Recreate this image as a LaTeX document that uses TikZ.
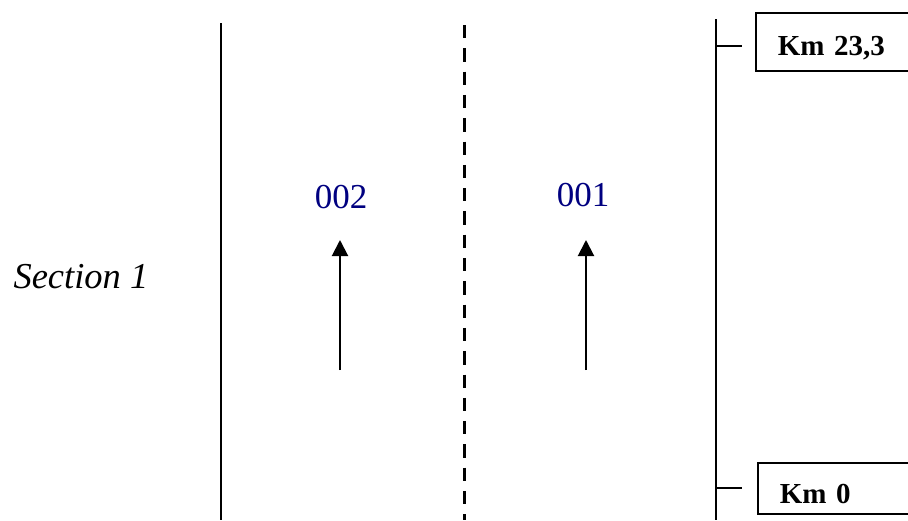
\documentclass[tikz,border=0pt]{standalone}
\usepackage{fontspec}
\setmainfont{Liberation Serif}
\usetikzlibrary{arrows.meta}
\definecolor{lanenum}{HTML}{000080}
\begin{document}
\begin{tikzpicture}[x=1pt,y=-1pt,
  roadline/.style={line width=2pt},
  laneline/.style={line width=3pt, dash pattern=on 13.3pt off 10pt},
  flow/.style={line width=2pt, -{Triangle[length=16pt,width=16pt]}},
  kmbox/.style={draw, line width=1.6pt, inner xsep=22pt, inner ysep=0pt,
    text width=120pt, align=left, anchor=base west,
    font=\fontsize{29}{32}\selectfont\bfseries},
  lanelabel/.style={anchor=base, text=lanenum, font=\fontsize{35}{40}\selectfont},
  seclabel/.style={anchor=base west, font=\fontsize{36.5}{42}\selectfont\itshape}
]
\useasboundingbox (0,0) rectangle (908,520);
\clip (0,0) rectangle (908,520);

% road edges and centre line
\coordinate (leftTop) at (221,23);
\coordinate (leftBot) at (221,520);
\coordinate (midTop) at (464,25);
\coordinate (midBot) at (464,520);
\coordinate (rightTop) at (716,19);
\coordinate (rightBot) at (716,520);
\draw[roadline] (leftTop) -- (leftBot);
\draw[laneline] (midTop) -- (midBot);
\draw[roadline] (rightTop) -- (rightBot);

% kilometre markers
\node[kmbox, text height=42pt, text depth=16pt] (km23) at (755,55) {Km 23,3};
\node[kmbox, text height=40pt, text depth=11pt] (km0) at (757,503) {Km 0};
\coordinate (tickA) at (716,46);
\coordinate (tickB) at (716,488);
\draw[roadline] (tickA) -- ++(26,0);
\draw[roadline] (tickB) -- ++(26,0);

% lanes and direction of travel
\node[lanelabel] (lane2) at (341,208) {002};
\node[lanelabel] (lane1) at (583,206) {001};
\coordinate (a2s) at (340,370);
\coordinate (a2e) at (340,240);
\coordinate (a1s) at (586,370);
\coordinate (a1e) at (586,240);
\draw[flow] (a2s) -- (a2e);
\draw[flow] (a1s) -- (a1e);

\node[seclabel] (sec) at (10,288) {Section 1};
\end{tikzpicture}
\end{document}
